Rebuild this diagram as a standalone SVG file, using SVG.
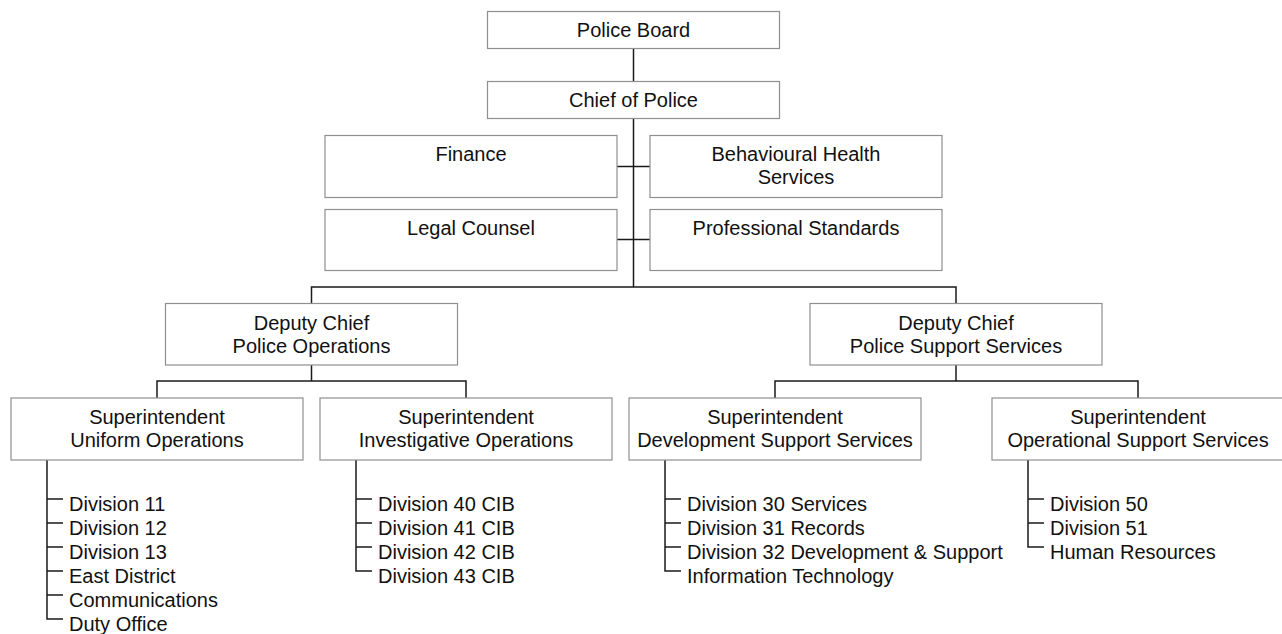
<svg xmlns="http://www.w3.org/2000/svg" width="1282" height="634" viewBox="0 0 1282 634">
  <style>
    .box { fill: #ffffff; stroke: #8f8f8f; stroke-width: 1.2; }
    .t { font-family: "Liberation Sans", Arial, sans-serif; font-size: 20px; fill: #111111; }
    .c { text-anchor: middle; }
    .wire { fill: none; stroke: #1a1a1a; stroke-width: 1.5; }
  </style>
  <rect width="1282" height="634" fill="#ffffff"/>

  <!-- connectors -->
  <g id="connectors" class="wire">
    <path d="M633.5 48.5 V81.5"/>
    <path d="M633.5 118.5 V287"/>
    <path d="M617 166.5 H650"/>
    <path d="M617 239.5 H650"/>
    <path d="M311.5 287 H956 M311.5 286.3 V303.5 M956 286.3 V303.5"/>
    <path d="M311.5 365 V381 M157 381 H466 M157 380.3 V398 M466 380.3 V398"/>
    <path d="M956 365 V381 M775 381 H1138 M775 380.3 V398 M1138 380.3 V398"/>
    <!-- unit lists -->
    <path d="M47 460 V619 H63 M47 499 H63 M47 523 H63 M47 547 H63 M47 571 H63 M47 595 H63"/>
    <path d="M356 460 V571 H372 M356 499 H372 M356 523 H372 M356 547 H372"/>
    <path d="M665 460 V571 H681 M665 499 H681 M665 523 H681 M665 547 H681"/>
    <path d="M1028 460 V547 H1044 M1028 499 H1044 M1028 523 H1044"/>
  </g>

  <g id="police-board">
    <rect class="box" x="487.5" y="11.5" width="292" height="37"/>
    <text class="t c" x="633.5" y="36.5">Police Board</text>
  </g>
  <g id="chief">
    <rect class="box" x="487.5" y="81.5" width="292" height="37"/>
    <text class="t c" x="633.5" y="107">Chief of Police</text>
  </g>
  <g id="finance">
    <rect class="box" x="325" y="135.5" width="292" height="62"/>
    <text class="t c" x="471" y="161">Finance</text>
  </g>
  <g id="behavioural-health">
    <rect class="box" x="650" y="135.5" width="292" height="62"/>
    <text class="t c" x="796" y="161">Behavioural Health</text>
    <text class="t c" x="796" y="184">Services</text>
  </g>
  <g id="legal-counsel">
    <rect class="box" x="325" y="209.5" width="292" height="61"/>
    <text class="t c" x="471" y="234.5">Legal Counsel</text>
  </g>
  <g id="professional-standards">
    <rect class="box" x="650" y="209.5" width="292" height="61"/>
    <text class="t c" x="796" y="234.5">Professional Standards</text>
  </g>
  <g id="deputy-operations">
    <rect class="box" x="165.5" y="303.5" width="292" height="61.5"/>
    <text class="t c" x="311.5" y="329.5">Deputy Chief</text>
    <text class="t c" x="311.5" y="352.5">Police Operations</text>
  </g>
  <g id="deputy-support">
    <rect class="box" x="810" y="303.5" width="292" height="61.5"/>
    <text class="t c" x="956" y="329.5">Deputy Chief</text>
    <text class="t c" x="956" y="352.5">Police Support Services</text>
  </g>
  <g id="supt-uniform">
    <rect class="box" x="11" y="398" width="292" height="62"/>
    <text class="t c" x="157" y="423.5">Superintendent</text>
    <text class="t c" x="157" y="446.5">Uniform Operations</text>
  </g>
  <g id="supt-investigative">
    <rect class="box" x="320" y="398" width="292" height="62"/>
    <text class="t c" x="466" y="423.5">Superintendent</text>
    <text class="t c" x="466" y="446.5">Investigative Operations</text>
  </g>
  <g id="supt-development">
    <rect class="box" x="629" y="398" width="292" height="62"/>
    <text class="t c" x="775" y="423.5">Superintendent</text>
    <text class="t c" x="775" y="446.5">Development Support Services</text>
  </g>
  <g id="supt-operational">
    <rect class="box" x="992" y="398" width="292" height="62"/>
    <text class="t c" x="1138" y="423.5">Superintendent</text>
    <text class="t c" x="1138" y="446.5">Operational Support Services</text>
  </g>

  <g id="uniform-units" class="t">
    <text x="69" y="511">Division 11</text>
    <text x="69" y="535">Division 12</text>
    <text x="69" y="559">Division 13</text>
    <text x="69" y="583">East District</text>
    <text x="69" y="607">Communications</text>
    <text x="69" y="631">Duty Office</text>
  </g>
  <g id="investigative-units" class="t">
    <text x="378" y="511">Division 40 CIB</text>
    <text x="378" y="535">Division 41 CIB</text>
    <text x="378" y="559">Division 42 CIB</text>
    <text x="378" y="583">Division 43 CIB</text>
  </g>
  <g id="development-units" class="t">
    <text x="687" y="511">Division 30 Services</text>
    <text x="687" y="535">Division 31 Records</text>
    <text x="687" y="559">Division 32 Development &amp; Support</text>
    <text x="687" y="583">Information Technology</text>
  </g>
  <g id="operational-units" class="t">
    <text x="1050" y="511">Division 50</text>
    <text x="1050" y="535">Division 51</text>
    <text x="1050" y="559">Human Resources</text>
  </g>
</svg>
